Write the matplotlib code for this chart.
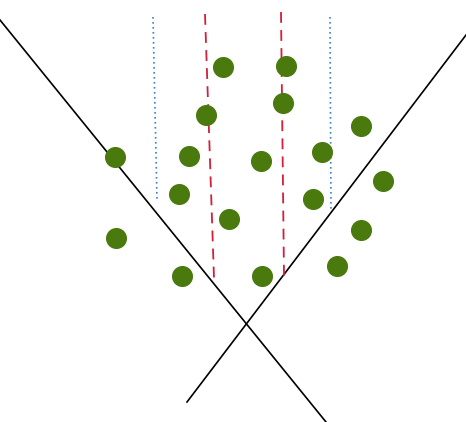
import matplotlib
matplotlib.use("Agg")
import matplotlib.pyplot as plt

# point centres, in picture pixels (y down)
pts_x = [223, 286, 206, 283, 115, 189, 261, 322, 361, 179, 313, 383, 229, 116, 361, 182, 262, 337]
pts_y = [67, 66, 115, 103, 157, 156, 161, 152, 126, 194, 199, 181, 219, 238, 230, 276, 276, 266]

# segments: (x0, y0, x1, y1)
black_lines = [(0, 20, 326, 422), (466, 35, 187, 402)]
blue_lines = [(153, 17, 157, 200), (330, 17, 331, 212)]
red_lines = [(205, 14, 214, 278), (281, 12, 284, 276)]

fig = plt.figure(figsize=(4.66, 4.22), dpi=100)
ax = fig.add_axes([0, 0, 1, 1])
ax.set_xlim(0, 466); ax.set_ylim(422, 0)
ax.axis("off")

for x0, y0, x1, y1 in black_lines:
    ax.plot([x0, x1], [y0, y1], color="black", lw=1.2)
for x0, y0, x1, y1 in blue_lines:
    ax.plot([x0, x1], [y0, y1], color="#3a7fd0", lw=1.2, ls=(0, (1, 2)))
for x0, y0, x1, y1 in red_lines:
    ax.plot([x0, x1], [y0, y1], color="#d0203a", lw=1.3, ls=(0, (6, 4)))

ax.scatter(pts_x, pts_y, s=200, color="#4a7a0e", zorder=3)

fig.savefig("out.png", dpi=100)
